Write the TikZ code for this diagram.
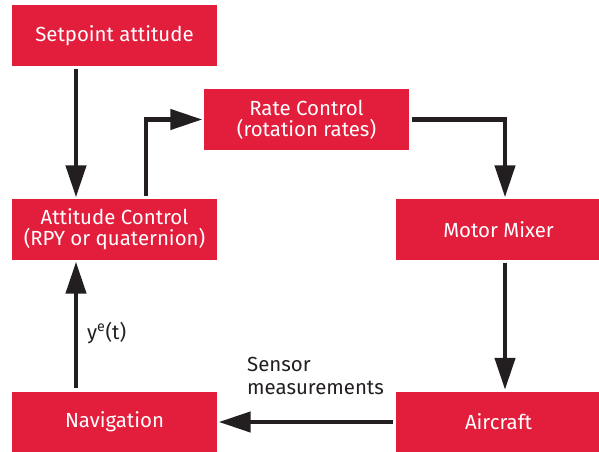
\documentclass[tikz,border=0pt]{standalone}
\usepackage{fontspec}
\setmainfont{Fira Sans}
\usetikzlibrary{arrows.meta}
\definecolor{BlockColor}{HTML}{E31D3C}
\definecolor{FlowColor}{HTML}{231F20}

\begin{document}
\begin{tikzpicture}[x=1bp, y=-1bp,
  block/.style={fill=BlockColor, text=white, minimum width=205bp, minimum height=61bp,
    align=center, inner sep=0pt, font=\fontsize{20.5}{21}\selectfont},
  flow/.style={draw=FlowColor, line width=4.5bp, -{Triangle[length=32bp,width=20bp]},
    shorten >=1.5bp, shorten <=3bp},
  note/.style={text=FlowColor, align=left, inner sep=0pt, font=\fontsize{20.5}{23}\selectfont}]
  \useasboundingbox (0,0) rectangle (599,452);
  % blocks
  \node[block] (setpoint) at (114.5,35.5) {Setpoint attitude};
  \node[block] (rate) at (306.5,119.5) {Rate Control\\(rotation rates)};
  \node[block] (attitude) at (114.5,229.5) {Attitude Control\\(RPY or quaternion)};
  \node[block] (mixer) at (498.5,229.5) {Motor Mixer};
  \node[block] (navigation) at (114.5,422) {Navigation};
  \node[block] (aircraft) at (498.5,422) {Aircraft};
  % labels
  \node[note, anchor=west] (estimate) at (87,333) {y\textsuperscript{e}(t)};
  \node[note, anchor=north west] (sensors) at (247,357) {Sensor\\measurements};
  % connectors
  \draw[flow] ([xshift=-38.5bp]setpoint.south) -- ([xshift=-38.5bp]attitude.north);
  \draw[flow] ([xshift=31.5bp]attitude.north) |- (rate.west);
  \draw[flow] (rate.east) -| ([xshift=6.5bp]mixer.north);
  \draw[flow] ([xshift=6.5bp]mixer.south) -- ([xshift=6.5bp]aircraft.north);
  \draw[flow] (aircraft.west) -- (navigation.east);
  \draw[flow] ([xshift=-38.5bp]navigation.north) -- ([xshift=-38.5bp]attitude.south);
\end{tikzpicture}
\end{document}
